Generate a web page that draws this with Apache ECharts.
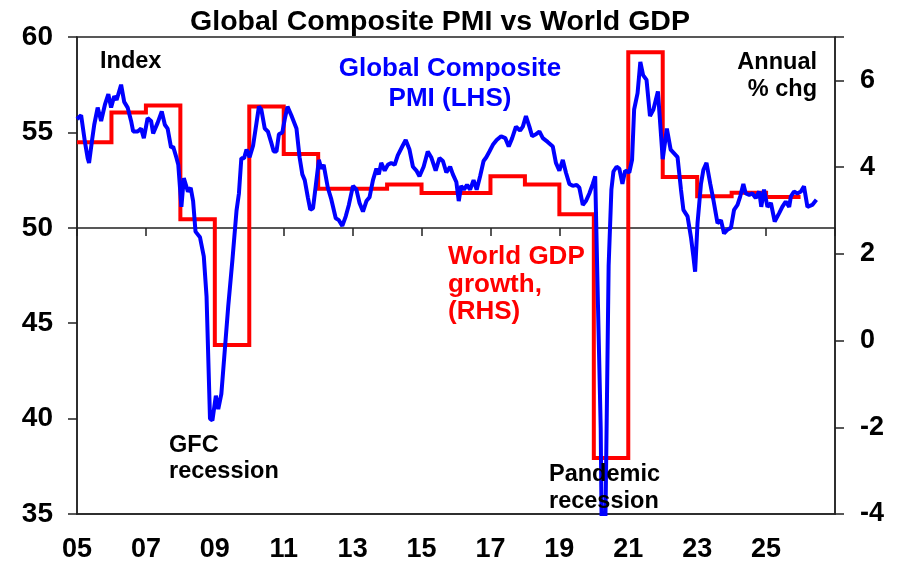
<!DOCTYPE html>
<html>
<head>
<meta charset="utf-8">
<script src="https://cdn.jsdelivr.net/npm/echarts@6/dist/echarts.min.js"></script>
<style>
html,body{margin:0;padding:0;background:#fff;}
#chart{width:916px;height:576px;}
</style>
</head>
<body>
<div id="chart"></div>
<script>
// World GDP growth, annual % change (RHS)
const gdpYears = [2005,2006,2007,2008,2009,2010,2011,2012,2013,2014,2015,2016,2017,2018,2019,2020,2021,2022,2023,2024,2025];
const gdpValues = [4.57,5.26,5.42,2.8,-0.1,5.4,4.3,3.5,3.5,3.6,3.4,3.4,3.79,3.6,2.91,-2.71,6.65,3.77,3.33,3.41,3.31];

// Global Composite PMI (LHS), dates as decimal years
const pmiDates = [
2005.00,2005.12,2005.23,2005.31,2005.35,2005.43,2005.50,2005.60,2005.70,2005.81,2005.91,2005.99,
2006.08,2006.15,2006.28,2006.37,2006.47,2006.57,2006.63,2006.76,2006.86,2006.94,
2007.05,2007.15,2007.21,2007.34,2007.46,2007.55,2007.63,2007.73,2007.79,2007.89,2007.94,
2008.03,2008.10,2008.22,2008.30,2008.37,2008.44,2008.57,2008.68,2008.76,2008.86,2008.93,
2009.03,2009.10,2009.19,2009.29,2009.39,2009.51,2009.63,2009.70,2009.77,2009.85,2009.92,
2010.01,2010.11,2010.21,2010.28,2010.35,2010.45,2010.54,2010.64,2010.71,2010.79,2010.86,2010.96,
2011.03,2011.11,2011.22,2011.37,2011.46,2011.54,2011.61,2011.70,2011.77,2011.85,2011.93,
2012.02,2012.09,2012.16,2012.22,2012.28,2012.38,2012.51,2012.60,2012.70,2012.80,2012.89,
2013.01,2013.11,2013.20,2013.30,2013.40,2013.49,2013.59,2013.69,2013.76,2013.83,2013.93,
2014.02,2014.12,2014.22,2014.31,2014.44,2014.54,2014.65,2014.75,2014.85,2014.94,
2015.06,2015.18,2015.28,2015.41,2015.52,2015.62,2015.72,2015.83,2015.91,
2016.01,2016.08,2016.15,2016.23,2016.32,2016.41,2016.51,2016.60,2016.70,2016.80,2016.88,2016.97,
2017.07,2017.18,2017.31,2017.43,2017.53,2017.63,2017.74,2017.86,2017.94,
2018.03,2018.13,2018.21,2018.32,2018.42,2018.52,2018.66,2018.81,2018.90,
2019.00,2019.10,2019.19,2019.29,2019.39,2019.50,2019.58,2019.68,2019.77,2019.87,2019.97,
2020.04,2020.12,2020.20,2020.27,2020.35,2020.43,2020.51,2020.57,2020.66,2020.74,2020.83,2020.91,
2021.03,2021.11,2021.17,2021.27,2021.35,2021.43,2021.53,2021.63,2021.73,2021.86,
2022.00,2022.12,2022.23,2022.33,2022.43,2022.53,2022.60,2022.72,2022.82,2022.89,2022.94,
2023.01,2023.11,2023.18,2023.27,2023.38,2023.47,2023.59,2023.69,2023.78,2023.88,2023.98,
2024.07,2024.17,2024.25,2024.34,2024.41,2024.51,2024.60,2024.70,2024.80,2024.86,2024.94,
2025.04,2025.14,2025.25,2025.38,2025.47,2025.57,2025.67,2025.72,2025.81,2025.91,
2026.01,2026.10,2026.20,2026.34,2026.46
];
const pmiValues = [
55.7,55.9,54.5,53.65,53.4,54.5,55.4,56.3,55.6,56.45,57.0,56.3,
56.9,56.7,57.5,56.6,56.3,55.6,55.05,55.05,55.2,54.7,
55.75,55.6,54.95,55.5,56.1,55.4,55.2,54.2,54.26,53.65,53.3,
51.1,52.6,51.9,52.1,51.4,49.8,49.5,48.5,46.4,40.0,39.9,
41.2,40.5,41.3,43.6,45.9,48.3,50.9,51.8,53.65,53.65,54.1,
53.7,54.3,55.5,56.35,56.2,55.2,55.05,54.45,54.0,54.0,54.9,55.0,
55.7,56.35,55.9,55.2,53.7,52.8,52.5,51.6,50.95,51.03,52.2,
53.56,53.1,53.3,52.7,52.1,51.5,50.5,50.4,50.1,50.6,51.2,
52.2,52.0,51.3,50.85,51.4,51.6,52.5,53.1,52.8,53.4,53.0,
53.3,53.4,53.3,53.8,54.26,54.6,54.1,53.2,53.0,52.7,
53.2,54.0,53.7,53.0,53.65,53.5,52.9,53.2,52.8,
52.4,51.4,52.2,52.0,52.25,52.0,52.5,52.0,52.7,53.5,53.7,54.0,
54.35,54.6,54.8,54.7,54.26,54.7,55.3,55.1,55.3,
55.85,55.3,54.8,54.9,55.05,54.7,54.5,54.26,53.4,
53.0,53.56,52.9,52.3,52.2,52.25,52.1,51.2,51.4,51.8,52.3,
52.7,46.0,39.5,26.2,36.5,48.0,52.0,52.95,53.2,53.1,52.3,53.0,
52.9,53.56,56.2,57.06,58.7,58.0,57.75,55.85,56.2,57.15,
53.6,55.2,54.1,53.9,53.7,52.0,50.94,50.6,49.5,48.5,47.7,
50.24,52.3,53.04,53.4,52.3,51.47,50.24,50.4,49.7,49.9,50.0,
50.94,51.2,51.65,52.3,51.8,51.73,51.8,51.56,51.9,51.1,52.0,
51.1,51.3,50.33,50.77,51.1,51.38,51.1,51.65,51.9,51.8,
51.9,52.17,51.1,51.2,51.47
];

const FONT = "'Liberation Sans', Arial, Helvetica, sans-serif";
const AXIS_COLOR = '#222';

const gdpData = gdpYears.map((y, i) => [y, gdpValues[i]]);
gdpData.push([gdpYears[gdpYears.length - 1] + 1, gdpValues[gdpValues.length - 1]]);
const pmiData = pmiDates.map((d, i) => [d, pmiValues[i]]);

function txt(text, x, y, size, color, align) {
  return {
    type: 'text', x: x, y: y, z: 10,
    style: {
      text: text, fill: color,
      font: 'bold ' + size + 'px ' + FONT,
      align: align, textAlign: align,
      verticalAlign: 'middle', textVerticalAlign: 'middle'
    }
  };
}

const chart = echarts.init(document.getElementById('chart'), null, {renderer: 'canvas'});
chart.setOption({
  animation: false,
  backgroundColor: '#fff',
  grid: {left: 77, right: 81, top: 37, bottom: 62, show: true, borderColor: AXIS_COLOR, borderWidth: 1.5, containLabel: false},
  xAxis: [
    {
      type: 'value', min: 2005, max: 2027, interval: 2, position: 'bottom',
      axisLine: {show: true, onZero: false, lineStyle: {color: AXIS_COLOR, width: 1.5}},
      axisTick: {show: false},
      splitLine: {show: false},
      axisLabel: {
        formatter: v => (v === 2027 ? '' : String(v).slice(2)),
        fontSize: 27, fontWeight: 'bold', fontFamily: FONT, color: '#000', margin: 22
      }
    },
    {
      type: 'value', min: 2005, max: 2027, interval: 2, position: 'bottom', offset: -286,
      axisLine: {show: true, onZero: false, lineStyle: {color: AXIS_COLOR, width: 1.5}},
      axisTick: {show: true, inside: false, length: 8, lineStyle: {color: AXIS_COLOR, width: 1.5}},
      splitLine: {show: false},
      axisLabel: {show: false}
    }
  ],
  yAxis: [
    {
      type: 'value', min: 35, max: 60, interval: 5, position: 'left',
      axisLine: {show: true, onZero: false, lineStyle: {color: AXIS_COLOR, width: 1.5}},
      axisTick: {show: true, inside: false, length: 9, lineStyle: {color: AXIS_COLOR, width: 1.5}},
      splitLine: {show: false},
      axisLabel: {fontSize: 28, fontWeight: 'bold', fontFamily: FONT, color: '#000', margin: 24}
    },
    {
      type: 'value', min: -4, max: 7, interval: 2, position: 'right',
      axisLine: {show: true, onZero: false, lineStyle: {color: AXIS_COLOR, width: 1.5}},
      axisTick: {show: true, inside: false, length: 9, lineStyle: {color: AXIS_COLOR, width: 1.5}},
      splitLine: {show: false},
      axisLabel: {
        formatter: v => (v === 7 ? '' : String(v)),
        fontSize: 27, fontWeight: 'bold', fontFamily: FONT, color: '#000', margin: 25
      }
    }
  ],
  series: [
    {
      name: 'World GDP growth (RHS)', type: 'line', xAxisIndex: 0, yAxisIndex: 1,
      data: gdpData, step: 'end', showSymbol: false, symbol: 'none',
      lineStyle: {color: '#ff0000', width: 4, join: 'miter'}
    },
    {
      name: 'Global Composite PMI (LHS)', type: 'line', xAxisIndex: 0, yAxisIndex: 0,
      data: pmiData, showSymbol: false, symbol: 'none',
      lineStyle: {color: '#0000ff', width: 4}
    }
  ],
  graphic: [
    txt('Global Composite PMI vs World GDP', 440, 22.5, 28.5, '#000', 'center'),
    txt('Index', 100, 61.7, 23.5, '#000', 'left'),
    txt('Global Composite', 450, 69.2, 26, '#0000ff', 'center'),
    txt('PMI (LHS)', 450, 99.2, 26, '#0000ff', 'center'),
    txt('Annual', 817, 62.7, 23.5, '#000', 'right'),
    txt('% chg', 817, 89.4, 23.5, '#000', 'right'),
    txt('World GDP', 448, 256.9, 26, '#ff0000', 'left'),
    txt('growth,', 448, 284.9, 26, '#ff0000', 'left'),
    txt('(RHS)', 448, 311.9, 26, '#ff0000', 'left'),
    txt('GFC', 169, 445.4, 23.5, '#000', 'left'),
    txt('recession', 169, 472, 23.5, '#000', 'left'),
    txt('Pandemic', 549, 474.4, 23.5, '#000', 'left'),
    txt('recession', 549, 502, 23.5, '#000', 'left')
  ]
});
</script>
</body>
</html>
